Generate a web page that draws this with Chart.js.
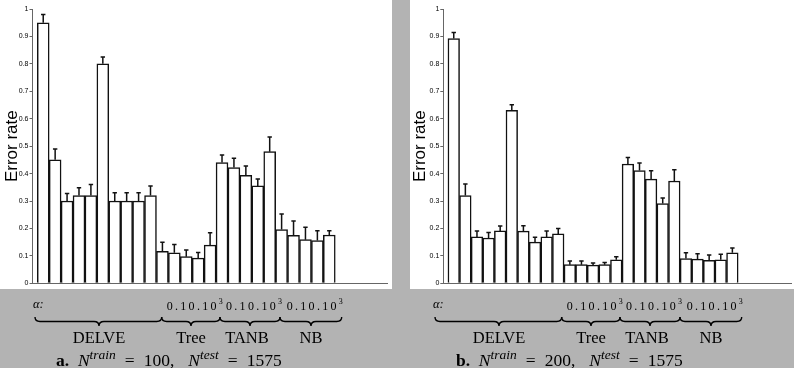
<!DOCTYPE html>
<html>
<head>
<meta charset="utf-8">
<script src="https://cdn.jsdelivr.net/npm/chart.js@4.4.1/dist/chart.umd.min.js"></script>
<style>
  html, body { margin: 0; padding: 0; }
  body { width: 794px; height: 368px; background: #b3b3b3; position: relative; overflow: hidden; }
  canvas { position: absolute; top: 0; background: #ffffff; }
  #c1 { left: 0; }
  #c2 { left: 410px; }
  .t { position: absolute; font-family: "Liberation Serif", "Times New Roman", serif; color: #000; white-space: nowrap; line-height: 1; }
  .grp { font-size: 16.5px; width: 100px; text-align: center; }
  .alpha { font-size: 12.5px; font-style: italic; }
  .num { font-size: 12px; letter-spacing: 2.3px; }
  .num sup { font-size: 8px; letter-spacing: 0; position: relative; top: -1px; }
  .cap { font-size: 17.5px; }
  .cap sup { font-size: 13.5px; font-style: italic; }
  .cap .eq { padding: 0 9px; }
  .cap .gap { display: inline-block; width: 14px; }
  svg { position: absolute; left: 0; top: 0; }
</style>
</head>
<body>
<canvas id="c1" width="392" height="289"></canvas>
<canvas id="c2" width="384" height="289"></canvas>
<svg id="braces" width="794" height="368"></svg>
<div id="notes"></div>
<script>
// ---- data ----
const groups = ["DELVE", "Tree", "TANB", "NB"];
const alphaLabel = "0.10.10";
const yTicks = [0, 0.1, 0.2, 0.3, 0.4, 0.5, 0.6, 0.7, 0.8, 0.9, 1];

const valuesA = [0.95, 0.45, 0.30, 0.32, 0.32, 0.80, 0.30, 0.30, 0.30, 0.32,
                 0.117, 0.111, 0.097, 0.092, 0.139,
                 0.44, 0.422, 0.394, 0.355, 0.48,
                 0.196, 0.175, 0.159, 0.156, 0.176];
const errorsA = [0.03, 0.04, 0.027, 0.028, 0.04, 0.025, 0.03, 0.03, 0.03, 0.035,
                 0.033, 0.03, 0.024, 0.02, 0.045,
                 0.028, 0.034, 0.034, 0.025, 0.053,
                 0.057, 0.052, 0.045, 0.036, 0.016];

const valuesB = [0.892, 0.32, 0.169, 0.165, 0.191, 0.631, 0.19, 0.15, 0.169, 0.18,
                 0.068, 0.068, 0.066, 0.068, 0.086,
                 0.435, 0.411, 0.38, 0.291, 0.373,
                 0.09, 0.088, 0.084, 0.086, 0.111];
const errorsB = [0.022, 0.042, 0.022, 0.02, 0.018, 0.02, 0.02, 0.018, 0.022, 0.02,
                 0.013, 0.013, 0.008, 0.008, 0.011,
                 0.024, 0.028, 0.03, 0.02, 0.041,
                 0.021, 0.02, 0.019, 0.02, 0.018];

const captionA = { letter: "a.", ntrain: 100, ntest: 1575 };
const captionB = { letter: "b.", ntrain: 200, ntest: 1575 };

// ---- error bar plugin ----
const errorBars = {
  id: 'errorBars',
  afterDatasetsDraw(chart, args, opts) {
    const ctx = chart.ctx;
    const xs = chart.scales.x, ys = chart.scales.y;
    const vals = opts.values, errs = opts.errors;
    ctx.save();
    ctx.strokeStyle = '#111';
    ctx.lineWidth = 1.5;
    for (let i = 0; i < vals.length; i++) {
      const x = xs.getPixelForValue(i + 1);
      const y0 = ys.getPixelForValue(vals[i]);
      const y1 = ys.getPixelForValue(vals[i] + errs[i]);
      ctx.beginPath();
      ctx.moveTo(x, y0);
      ctx.lineTo(x, y1);
      ctx.moveTo(x - 2.2, y1);
      ctx.lineTo(x + 2.2, y1);
      ctx.stroke();
    }
    ctx.restore();
  }
};

function makeChart(id, vals, errs, opt) {
  return new Chart(document.getElementById(id), {
    type: 'bar',
    data: {
      datasets: [{
        data: vals.map((v, i) => ({ x: i + 1, y: v })),
        backgroundColor: '#ffffff',
        borderColor: '#111111',
        borderWidth: 1.5,
        barPercentage: 1,
        categoryPercentage: 1
      }]
    },
    options: {
      responsive: false,
      animation: false,
      devicePixelRatio: 1,
      layout: { padding: { top: 9, right: opt.padRight, bottom: 0, left: 0 } },
      plugins: {
        legend: { display: false },
        tooltip: { enabled: false },
        errorBars: { values: vals, errors: errs }
      },
      scales: {
        x: {
          type: 'linear',
          offset: false,
          min: 0.1,
          max: opt.xmax,
          grid: { display: false, drawTicks: false },
          ticks: { display: false },
          border: { display: true, color: '#666', width: 1 },
          afterFit(s) { s.height = 5.7; }
        },
        y: {
          min: 0,
          max: 1,
          afterBuildTicks(s) { s.ticks = yTicks.map(v => ({ value: v })); },
          ticks: {
            color: '#000',
            font: { family: 'Liberation Sans, Arial, sans-serif', size: 7 },
            padding: 1,
            callback: (v) => String(Math.round(v * 10) / 10)
          },
          grid: { display: true, drawOnChartArea: false, drawTicks: true, tickLength: 3, color: '#666' },
          border: { display: true, color: '#666', width: 1 },
          title: {
            display: true,
            text: 'Error rate',
            color: '#000',
            font: { family: 'Liberation Sans, Arial, sans-serif', size: 17, weight: 'normal' },
            padding: { top: opt.titlePad, bottom: 0 }
          },
          afterFit(s) { s.width = opt.yWidth; }
        }
      }
    },
    plugins: [errorBars]
  });
}

makeChart('c1', valuesA, errorsA, { padRight: 4.3, xmax: 29.9, yWidth: 32.5, titlePad: 2 });
makeChart('c2', valuesB, errorsB, { padRight: 3, xmax: 30.05, yWidth: 33.3, titlePad: 0 });

// ---- annotations under each panel ----
const braceSpans = [[35, 161.7, 99], [161.7, 220, 191], [220, 280, 250], [280, 341.7, 311]];
const groupCenters = [99, 191, 247, 311];
const numLefts = [166.7, 226, 286.7];
const svgNS = 'http://www.w3.org/2000/svg';
const svg = document.getElementById('braces');
const notes = document.getElementById('notes');

function addDiv(cls, left, top, html) {
  const d = document.createElement('div');
  d.className = 't ' + cls;
  d.style.left = left + 'px';
  d.style.top = top + 'px';
  d.innerHTML = html;
  notes.appendChild(d);
}

function brace(x1, x2, xm) {
  const yt = 317, ym = 321.5, yb = 326;
  const d = `M ${x1} ${yt} Q ${x1} ${ym} ${x1 + 5} ${ym} L ${xm - 5} ${ym} Q ${xm} ${ym} ${xm} ${yb} ` +
            `Q ${xm} ${ym} ${xm + 5} ${ym} L ${x2 - 5} ${ym} Q ${x2} ${ym} ${x2} ${yt}`;
  const p = document.createElementNS(svgNS, 'path');
  p.setAttribute('d', d);
  p.setAttribute('fill', 'none');
  p.setAttribute('stroke', '#000');
  p.setAttribute('stroke-width', '1.4');
  svg.appendChild(p);
}

[[0, captionA], [400, captionB]].forEach(([off, cap]) => {
  addDiv('alpha', 33 + off, 298, 'α:');
  numLefts.forEach(x => addDiv('num', x + off, 299, alphaLabel + '<sup>3</sup>'));
  braceSpans.forEach(([a, b, m]) => brace(a + off, b + off, m + off));
  groups.forEach((g, i) => addDiv('grp', groupCenters[i] - 50 + off, 330, g));
  addDiv('cap', 56 + off, 348,
    `<b>${cap.letter}</b>&nbsp; <i>N</i><sup>train</sup><span class="eq">=</span>${cap.ntrain},<span class="gap"></span><i>N</i><sup>test</sup><span class="eq">=</span>${cap.ntest}`);
});
</script>
</body>
</html>
